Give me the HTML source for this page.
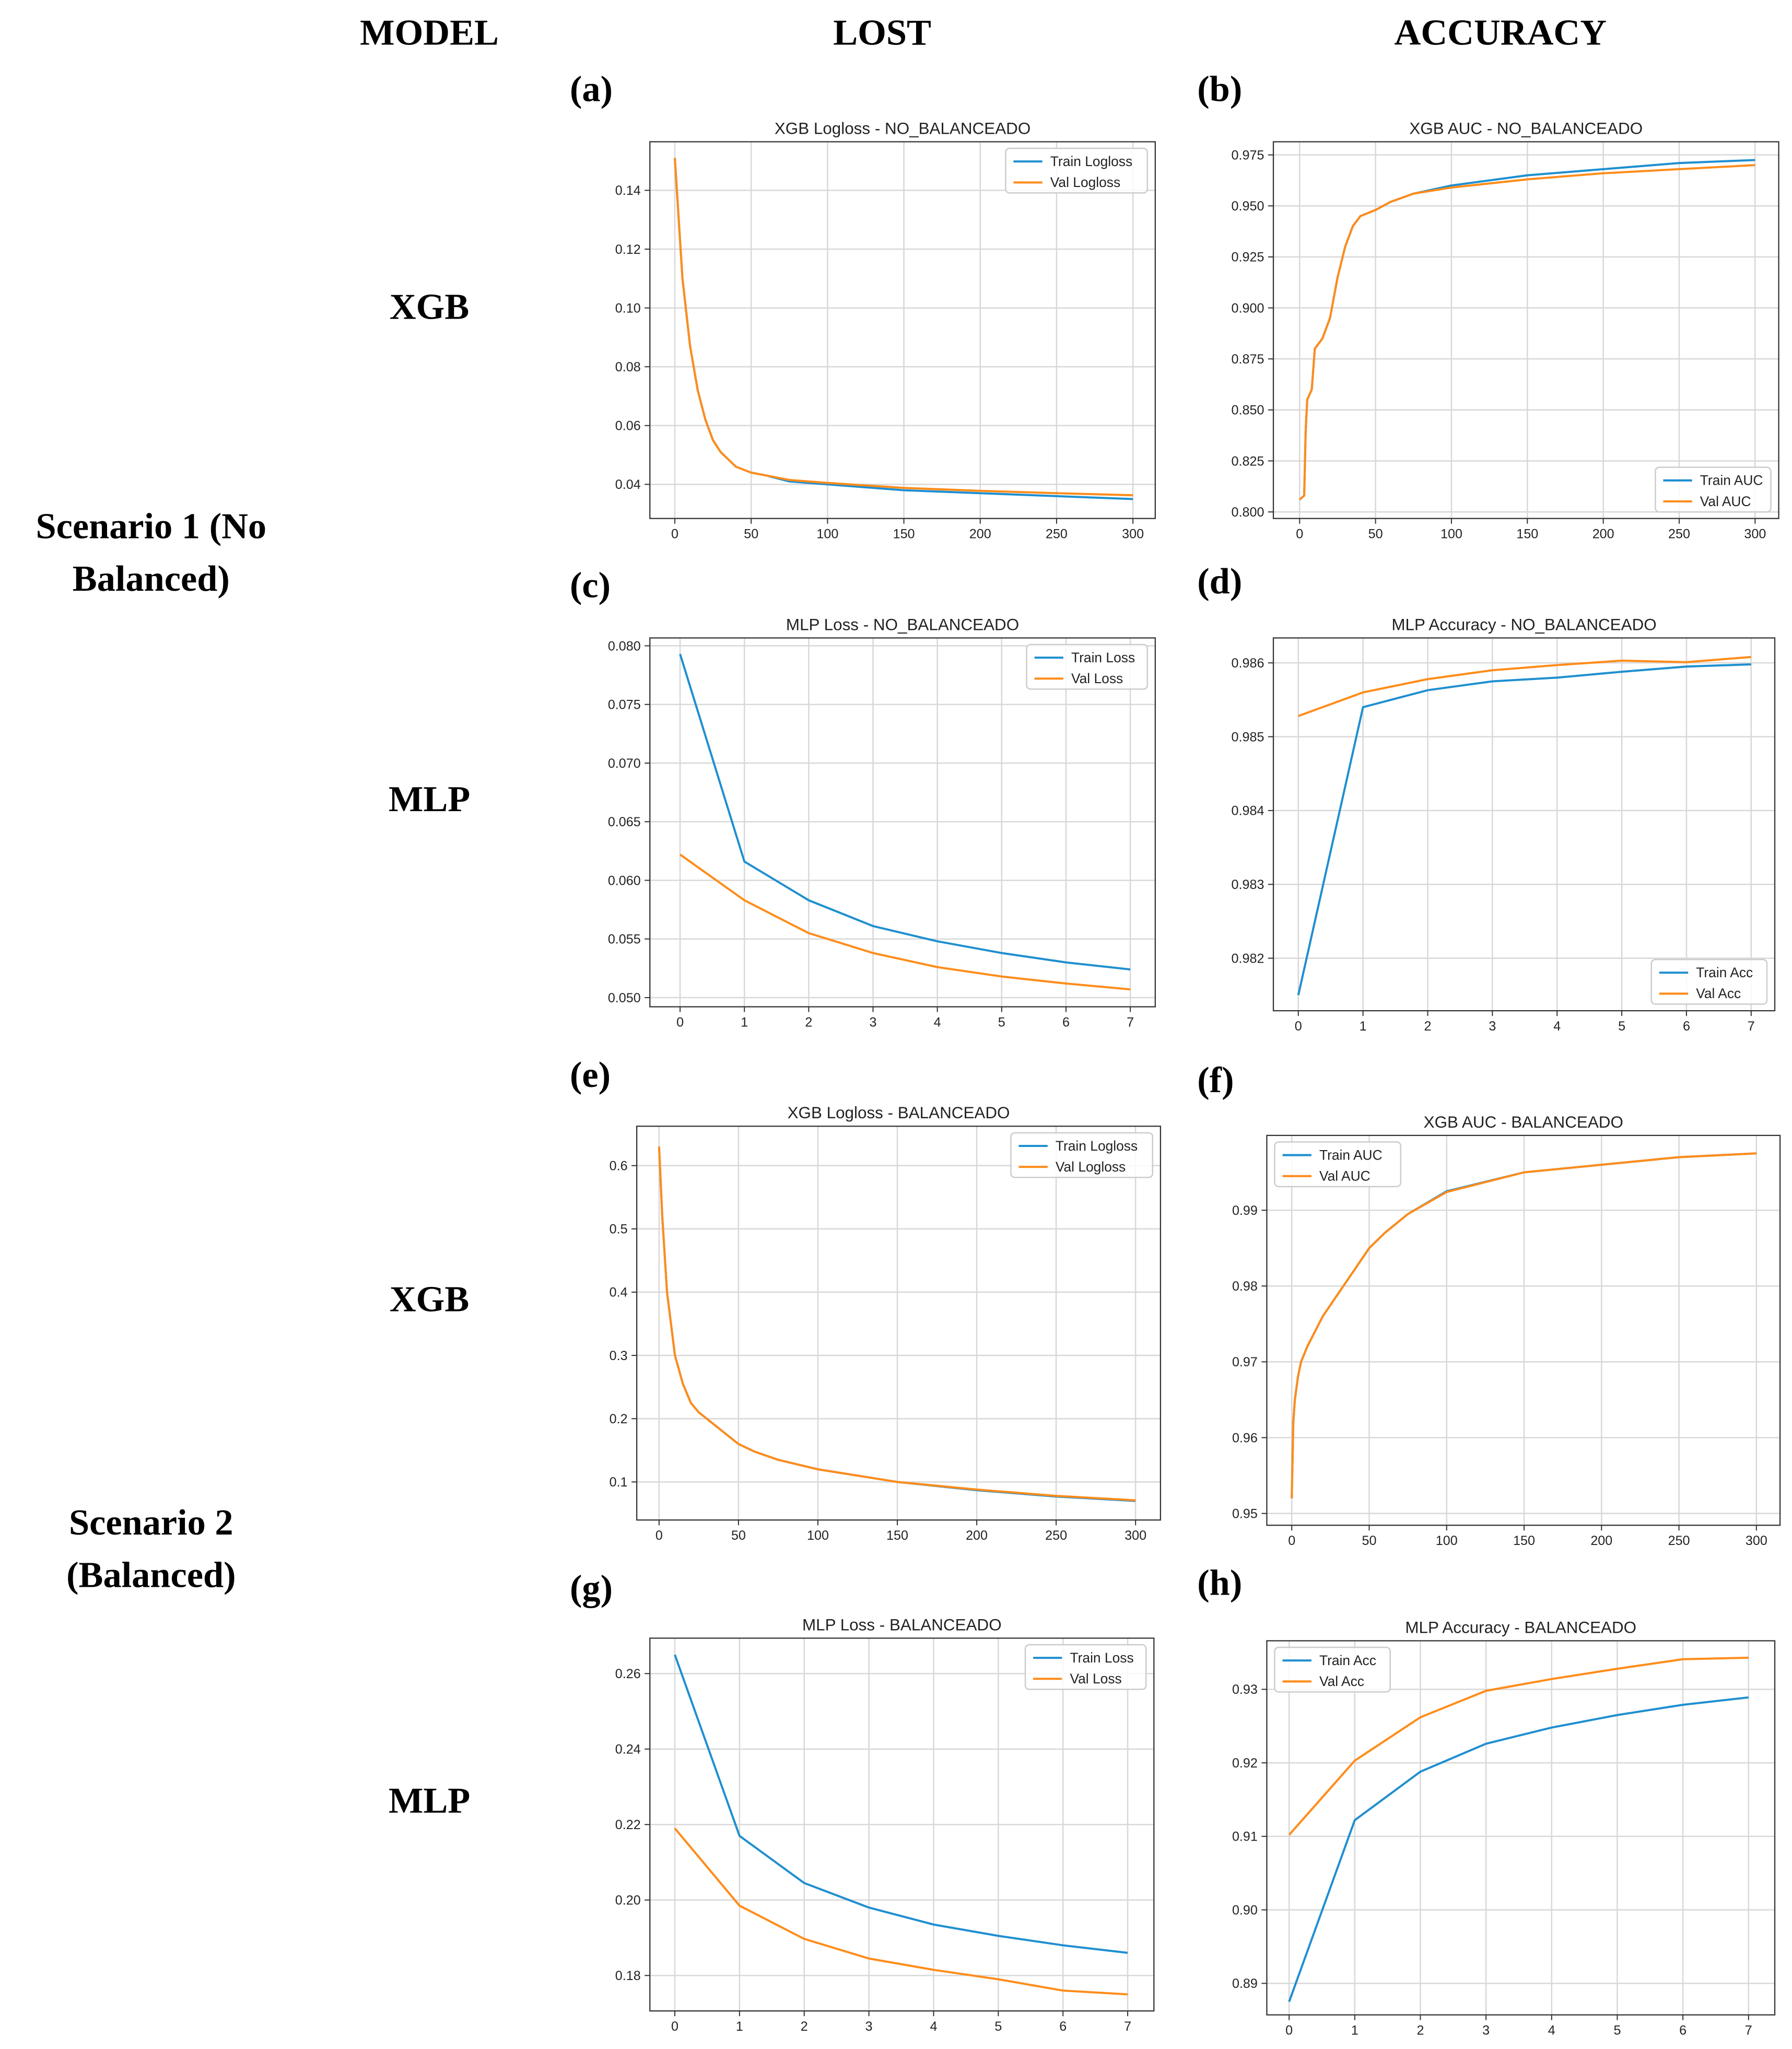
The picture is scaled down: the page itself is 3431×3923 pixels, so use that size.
<!DOCTYPE html>
<html><head><meta charset="utf-8">
<style>
html,body{margin:0;padding:0;background:#fff;}
svg{display:block;}
.h{font-family:"Liberation Serif",serif;font-weight:bold;font-size:28px;fill:#000;}
.t{font-family:"Liberation Sans",sans-serif;font-size:12.5px;fill:#222;}
.k{font-family:"Liberation Sans",sans-serif;font-size:10px;fill:#222;}
.l{font-family:"Liberation Sans",sans-serif;font-size:10.5px;fill:#222;}
</style></head>
<body>
<svg id="fig" width="3431" height="3923" viewBox="0 0 1365 1561" xmlns="http://www.w3.org/2000/svg">
<text class="h" x="327" y="34" text-anchor="middle">MODEL</text>
<text class="h" x="672" y="34" text-anchor="middle">LOST</text>
<text class="h" x="1143" y="34" text-anchor="middle">ACCURACY</text>
<text class="h" x="327" y="243" text-anchor="middle">XGB</text>
<text class="h" x="327" y="618" text-anchor="middle">MLP</text>
<text class="h" x="327" y="999" text-anchor="middle">XGB</text>
<text class="h" x="327" y="1381" text-anchor="middle">MLP</text>
<text class="h" x="115" y="410" text-anchor="middle">Scenario 1 (No</text>
<text class="h" x="115" y="450" text-anchor="middle">Balanced)</text>
<text class="h" x="115" y="1169" text-anchor="middle">Scenario 2</text>
<text class="h" x="115" y="1209" text-anchor="middle">(Balanced)</text>
</svg>
<script>
const xgbIterA=[0,5,10,15,20,25,30,40,50,60,75,100,150,200,250,300];
const trainA=[0.151,0.11,0.087,0.072,0.062,0.055,0.051,0.046,0.044,0.043,0.041,0.040,0.038,0.037,0.036,0.035];
const valA=[0.151,0.11,0.087,0.072,0.062,0.055,0.051,0.046,0.044,0.043,0.0415,0.0405,0.0388,0.0378,0.037,0.0363];
const xgbIterB=[0,3,4,5,8,10,15,20,25,30,35,40,50,60,75,100,150,200,250,300];
const trainB=[0.806,0.808,0.84,0.855,0.86,0.88,0.885,0.895,0.915,0.93,0.94,0.945,0.948,0.952,0.956,0.96,0.965,0.968,0.971,0.9725];
const valB=[0.806,0.808,0.84,0.855,0.86,0.88,0.885,0.895,0.915,0.93,0.94,0.945,0.948,0.952,0.956,0.959,0.963,0.966,0.968,0.970];
const epochs=[0,1,2,3,4,5,6,7];
const trainC=[0.0793,0.0616,0.0583,0.0561,0.0548,0.0538,0.0530,0.0524];
const valC=[0.0622,0.0583,0.0555,0.0538,0.0526,0.0518,0.0512,0.0507];
const trainD=[0.98150,0.98540,0.98563,0.98575,0.98580,0.98588,0.98595,0.98598];
const valD=[0.98528,0.98560,0.98578,0.98590,0.98597,0.98603,0.98601,0.98608];
const xgbIterE=[0,2,5,10,15,20,25,30,40,50,60,75,100,150,200,250,300];
const trainE=[0.63,0.52,0.40,0.30,0.255,0.225,0.21,0.20,0.18,0.16,0.148,0.135,0.12,0.10,0.087,0.077,0.07];
const valE=[0.63,0.52,0.40,0.30,0.255,0.225,0.21,0.20,0.18,0.16,0.148,0.135,0.12,0.10,0.088,0.078,0.071];
const xgbIterF=[0,1,2,4,6,8,10,15,20,30,40,50,60,75,100,150,200,250,300];
const trainF=[0.952,0.962,0.965,0.968,0.970,0.971,0.972,0.974,0.976,0.979,0.982,0.985,0.987,0.9895,0.9925,0.995,0.996,0.997,0.9975];
const valF=[0.952,0.962,0.965,0.968,0.970,0.971,0.972,0.974,0.976,0.979,0.982,0.985,0.987,0.9895,0.9924,0.995,0.996,0.997,0.9975];
const trainG=[0.265,0.217,0.2045,0.198,0.1935,0.1905,0.188,0.186];
const valG=[0.219,0.1985,0.1897,0.1845,0.1815,0.179,0.176,0.175];
const trainH=[0.8875,0.9122,0.9188,0.9226,0.9248,0.9265,0.9279,0.9289];
const valH=[0.9102,0.9203,0.9262,0.9298,0.9314,0.9328,0.9341,0.9343];
const ticksIter=[0,50,100,150,200,250,300];
const ticksA=[0.04,0.06,0.08,0.10,0.12,0.14];
const ticksB=[0.800,0.825,0.850,0.875,0.900,0.925,0.950,0.975];
const ticksC=[0.050,0.055,0.060,0.065,0.070,0.075,0.080];
const ticksD=[0.982,0.983,0.984,0.985,0.986];
const ticksE=[0.1,0.2,0.3,0.4,0.5,0.6];
const ticksF=[0.95,0.96,0.97,0.98,0.99];
const ticksG=[0.18,0.20,0.22,0.24,0.26];
const ticksH=[0.89,0.90,0.91,0.92,0.93];

const NS='http://www.w3.org/2000/svg';
const svg=document.getElementById('fig');
function mk(tag,attrs,parent){const e=document.createElementNS(NS,tag);for(const k in attrs)e.setAttribute(k,attrs[k]);(parent||svg).appendChild(e);return e;}
const BLUE='#1f8fd0',ORANGE='#ff8c1a';
function panel(o){
  const g=mk('g',{});
  
  
  const [l,t,r,b]=o.box;
  const xs=v=>o.x0p+(v-o.x0)/(o.x1-o.x0)*(o.x1p-o.x0p);
  const ys=v=>o.y0p+(v-o.y0)/(o.y1-o.y0)*(o.y1p-o.y0p);
  const pl=mk('text',{x:o.lx,y:o.ly,class:'h','font-size':26},g);pl.textContent='('+o.id+')';
  
  
  const ti=mk('text',{x:(l+r)/2,y:t-6,class:'t','text-anchor':'middle'},g);ti.textContent=o.title;
  
  
  o.xt.forEach(v=>{const X=xs(v);
    mk('line',{x1:X,x2:X,y1:t,y2:b,stroke:'#d8d8d8','stroke-width':1},g);
    mk('line',{x1:X,x2:X,y1:b,y2:b+4,stroke:'#333','stroke-width':0.8},g);
    const tx=mk('text',{x:X,y:b+15,class:'k','text-anchor':'middle'},g);tx.textContent=v;
    
    });
  o.yt.forEach(v=>{const Y=ys(v);
    mk('line',{x1:l,x2:r,y1:Y,y2:Y,stroke:'#d8d8d8','stroke-width':1},g);
    mk('line',{x1:l-4,x2:l,y1:Y,y2:Y,stroke:'#333','stroke-width':0.8},g);
    const tx=mk('text',{x:l-7,y:Y+3.5,class:'k','text-anchor':'end'},g);tx.textContent=v.toFixed(o.dec);
    
    });
  const fr=mk('rect',{x:l,y:t,width:r-l,height:b-t,fill:'none',stroke:'#333','stroke-width':0.9},g);
  
  
  [[o.tr,BLUE,'train-line'],[o.va,ORANGE,'val-line']].forEach(([arr,c,n])=>{
    const p=mk('polyline',{points:arr.map((v,i)=>xs(o.xv[i]).toFixed(2)+','+ys(v).toFixed(2)).join(' '),fill:'none',stroke:c,'stroke-width':1.6},g);
    
    });
  const lw=o.lw||108,lh=34;let Lx,Ly;
  if(o.leg==='ur'){Lx=r-lw-6;Ly=t+5;}else if(o.leg==='lr'){Lx=r-lw-6;Ly=b-lh-5;}else{Lx=l+6;Ly=t+5;}
  const lg=mk('g',{},g);
  
  
  mk('rect',{x:Lx,y:Ly,width:lw,height:lh,rx:3,fill:'#fff','fill-opacity':0.85,stroke:'#ccc'},lg);
  [[o.names[0],BLUE],[o.names[1],ORANGE]].forEach(([n,c],i)=>{
    const yy=Ly+10+i*16;
    mk('line',{x1:Lx+6,x2:Lx+28,y1:yy,y2:yy,stroke:c,'stroke-width':1.6},lg);
    const tx=mk('text',{x:Lx+34,y:yy+3.5,class:'l'},lg);tx.textContent=n;
    
    });
}
panel({id:'a',title:'XGB Logloss - NO_BALANCEADO',box:[495,108,880,395],lx:434,ly:77,x0:0,x1:300,x0p:514,x1p:863,y0:0.04,y1:0.14,y0p:369,y1p:145,xt:ticksIter,yt:ticksA,dec:2,xv:xgbIterA,tr:trainA,va:valA,leg:'ur',names:['Train Logloss','Val Logloss']});
panel({id:'b',title:'XGB AUC - NO_BALANCEADO',box:[970,108,1355,395],lx:912,ly:77,x0:0,x1:300,x0p:990,x1p:1337,y0:0.8,y1:0.975,y0p:390,y1p:118,xt:ticksIter,yt:ticksB,dec:3,xv:xgbIterB,tr:trainB,va:valB,leg:'lr',lw:88,names:['Train AUC','Val AUC']});
panel({id:'c',title:'MLP Loss - NO_BALANCEADO',box:[495,486,880,767],lx:434,ly:455,x0:0,x1:7,x0p:518,x1p:861,y0:0.05,y1:0.08,y0p:760,y1p:492,xt:epochs,yt:ticksC,dec:3,xv:epochs,tr:trainC,va:valC,leg:'ur',lw:92,names:['Train Loss','Val Loss']});
panel({id:'d',title:'MLP Accuracy - NO_BALANCEADO',box:[970,486,1352,770],lx:912,ly:452,x0:0,x1:7,x0p:989,x1p:1334,y0:0.982,y1:0.986,y0p:730,y1p:505,xt:epochs,yt:ticksD,dec:3,xv:epochs,tr:trainD,va:valD,leg:'lr',lw:88,names:['Train Acc','Val Acc']});
panel({id:'e',title:'XGB Logloss - BALANCEADO',box:[485,858,884,1158],lx:434,ly:828,x0:0,x1:300,x0p:502,x1p:865,y0:0.1,y1:0.6,y0p:1129,y1p:888,xt:ticksIter,yt:ticksE,dec:1,xv:xgbIterE,tr:trainE,va:valE,leg:'ur',names:['Train Logloss','Val Logloss']});
panel({id:'f',title:'XGB AUC - BALANCEADO',box:[965,865,1356,1162],lx:912,ly:832,x0:0,x1:300,x0p:984,x1p:1338,y0:0.95,y1:0.99,y0p:1153,y1p:922,xt:ticksIter,yt:ticksF,dec:2,xv:xgbIterF,tr:trainF,va:valF,leg:'ul',lw:96,names:['Train AUC','Val AUC']});
panel({id:'g',title:'MLP Loss - BALANCEADO',box:[495,1248,879,1532],lx:434,ly:1219,x0:0,x1:7,x0p:514,x1p:859,y0:0.18,y1:0.26,y0p:1505,y1p:1275,xt:epochs,yt:ticksG,dec:2,xv:epochs,tr:trainG,va:valG,leg:'ur',lw:92,names:['Train Loss','Val Loss']});
panel({id:'h',title:'MLP Accuracy - BALANCEADO',box:[965,1250,1352,1535],lx:912,ly:1215,x0:0,x1:7,x0p:982,x1p:1332,y0:0.89,y1:0.93,y0p:1511,y1p:1287,xt:epochs,yt:ticksH,dec:2,xv:epochs,tr:trainH,va:valH,leg:'ul',lw:88,names:['Train Acc','Val Acc']});
</script>
</body></html>
